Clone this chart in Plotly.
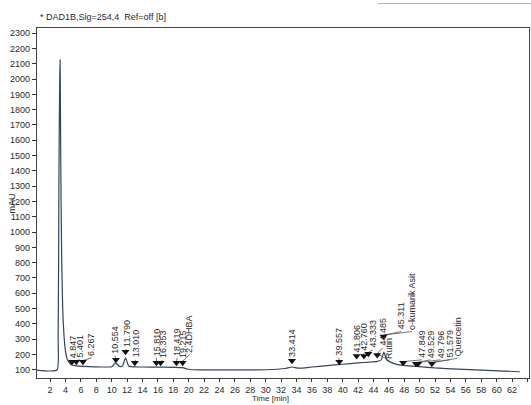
import plotly.graph_objects as go

# ---- data ----
time_min = [0.3, 2.9, 3.05, 3.15, 3.25, 3.3, 3.38, 3.5, 3.7, 4.0, 4.3, 4.7, 5.5, 7.0, 9.0, 10.0,
            10.5, 11.0, 11.4, 11.8, 12.2, 12.8, 14.0, 16.0, 18.0, 19.2, 19.8, 20.5, 25.0, 30.0,
            32.5, 33.4, 34.3, 36.0, 38.0, 40.0, 42.0, 43.5, 44.5, 45.0, 45.35, 45.7, 46.2, 47.0,
            48.0, 50.0, 52.0, 55.0, 58.0, 61.0, 63.0]
signal_mau = [98, 98, 300, 1400, 2000, 2125, 1500, 850, 420, 220, 160, 135, 125, 120, 118, 120,
              145, 122, 125, 178, 125, 119, 118, 117, 116, 114, 105, 100, 99, 100,
              108, 118, 110, 118, 127, 136, 145, 150, 155, 165, 215, 165, 150, 135,
              128, 120, 112, 104, 97, 91, 87]

peak_rt = [4.847, 5.401, 6.267, 10.554, 11.790, 13.010, 15.810, 16.353, 18.419, 19.215,
           33.414, 39.557, 41.806, 42.760, 43.333, 44.485, 45.311, 47.849, 49.529, 49.796, 51.579]
peak_marker_mau = [152, 152, 152, 165, 217, 145, 145, 145, 145, 145,
                   158, 152, 190, 190, 205, 197, 318, 145, 139, 139, 139]

label_text = ["4.847", "5.401", "6.267", "10.554", "11.790", "13.010", "15.810", "16.353",
              "18.419", "19.215", "2,4DHBA", "33.414", "39.557", "41.806", "42.760", "43.333",
              "44.485", "Rutin", "45.311", "o-kumarik Asit", "47.849", "49.529", "49.796",
              "51.579", "Quercetin"]
label_x = [5.0, 5.9, 7.4, 10.4, 11.9, 13.1, 15.8, 16.6, 18.5, 19.3, 20.1, 33.4, 39.5, 41.8,
           42.75, 43.9, 45.2, 46.1, 47.6, 49.0, 50.3, 51.4, 52.7, 53.9, 54.9]
label_base_mau = [160, 165, 178, 190, 235, 165, 178, 160, 178, 165, 200, 170, 178, 197,
                  210, 230, 243, 158, 350, 350, 165, 165, 165, 165, 175]
# which peak each label hangs from (index into peak_rt)
label_peak = [0, 1, 2, 3, 4, 5, 6, 7, 8, 9, 9, 10, 11, 12, 13, 14, 15, 15, 16, 16,
              17, 18, 19, 20, 20]

x_ticks = list(range(2, 65, 2))
y_ticks = list(range(100, 2301, 100))

FONT = "Liberation Sans Narrow, Liberation Sans, Arial, sans-serif"
TXT = "#2a2a2a"

fig = go.Figure()

fig.add_trace(go.Scatter(x=time_min, y=signal_mau, mode="lines",
                         line=dict(color="#34435e", width=1.2, shape="spline", smoothing=0.5),
                         hoverinfo="skip", showlegend=False))

# leader lines from each marker to its label
lx, ly = [], []
for i, p in enumerate(label_peak):
    lx += [peak_rt[p], label_x[i], None]
    ly += [peak_marker_mau[p] + 8, label_base_mau[i], None]
fig.add_trace(go.Scatter(x=lx, y=ly, mode="lines", line=dict(color="#555", width=0.8),
                         hoverinfo="skip", showlegend=False))

fig.add_trace(go.Scatter(x=peak_rt, y=peak_marker_mau, mode="markers",
                         marker=dict(symbol="triangle-down", size=7, color="#111"),
                         hoverinfo="skip", showlegend=False))

for t, x, y in zip(label_text, label_x, label_base_mau):
    fig.add_annotation(x=x, y=y, text=t, textangle=-90, showarrow=False,
                       xanchor="center", yanchor="bottom",
                       font=dict(family=FONT, size=9, color=TXT))

fig.add_annotation(xref="paper", yref="paper", x=0.002, y=1.03, xanchor="left",
                   yanchor="middle", text="* DAD1B,Sig=254,4  Ref=off [b]",
                   showarrow=False, font=dict(family=FONT, size=9, color=TXT))
fig.add_annotation(xref="paper", yref="paper", x=-0.05, y=0.5, text="mAU",
                   textangle=-90, showarrow=False, xanchor="center", yanchor="middle",
                   font=dict(family=FONT, size=9, color=TXT))
fig.add_annotation(xref="paper", yref="paper", x=0.474, y=-0.058, text="Time [min]",
                   showarrow=False, xanchor="center", yanchor="middle",
                   font=dict(family=FONT, size=8, color=TXT))

fig.add_shape(type="line", xref="paper", yref="paper", x0=0.693, x1=1.01, y0=1.07, y1=1.07,
              line=dict(color="#a9b5c9", width=1.2))

fig.update_layout(
    width=531, height=405,
    margin=dict(l=37, r=2, t=28, b=27),
    paper_bgcolor="white", plot_bgcolor="white",
    font=dict(family=FONT, size=9, color=TXT),
    xaxis=dict(range=[0.3, 64.2], tickvals=x_ticks, ticks="outside", ticklen=3,
               tickwidth=1, tickcolor="#333", showgrid=False, zeroline=False,
               showline=True, linecolor="#444", linewidth=1.2, mirror=True,
               tickfont=dict(family=FONT, size=9, color=TXT)),
    yaxis=dict(range=[46, 2334], tickvals=y_ticks, ticks="outside", ticklen=4,
               tickwidth=1, tickcolor="#333", showgrid=False, zeroline=False,
               showline=True, linecolor="#444", linewidth=1.2, mirror=True,
               tickfont=dict(family=FONT, size=9, color=TXT)),
)

fig.write_html("out.html")
